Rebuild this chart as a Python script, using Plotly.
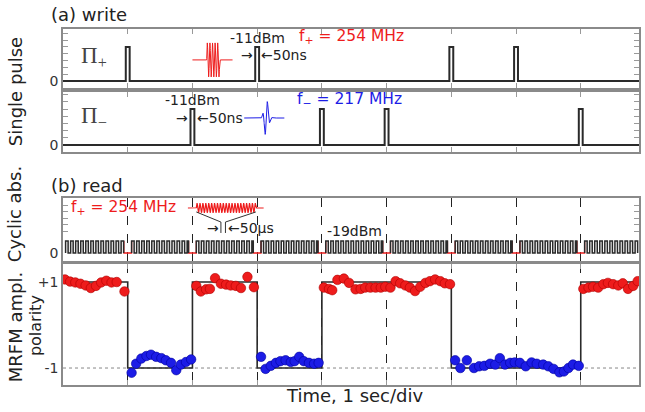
import numpy as np
import plotly.graph_objects as go

# ---------------- data ----------------
T_MAX = 8.9
pulse_plus_times = [1, 3, 6, 7]      # Pi+ write pulses (s)
pulse_minus_times = [2, 4, 5, 8]     # Pi- write pulses (s)
pulse_width = 0.06
read_gap_times = [1, 2, 3, 4, 5, 6, 7, 8]
read_gap_half = 0.06
read_period = 0.078

step_t = [0, 1, 2, 3, 4, 6, 8, 8.9]
step_v = [1, -1, 1, -1, 1, -1, 1, 1]

red_t = [0.03, 0.11, 0.19, 0.27, 0.35, 0.43, 0.51, 0.59, 0.67, 0.75, 0.83, 0.95,
         2.06, 2.13, 2.21, 2.27, 2.35, 2.44, 2.52, 2.59, 2.67, 2.75, 2.85, 2.95,
         4.03, 4.11, 4.16, 4.24, 4.34, 4.42, 4.52, 4.60, 4.67, 4.75, 4.83, 4.91, 4.98,
         5.06, 5.14, 5.21, 5.29, 5.36, 5.44, 5.52, 5.60, 5.67, 5.75, 5.83, 5.90, 5.98,
         8.04, 8.12, 8.19, 8.27, 8.35, 8.42, 8.50, 8.58, 8.65, 8.73, 8.81, 8.88]
red_v = [1.06, 1.01, 0.99, 0.96, 0.92, 0.86, 0.91, 0.99, 1.03, 0.99, 1.00, 0.78,
         0.91, 0.78, 0.83, 0.84, 1.09, 0.96, 0.94, 0.92, 0.91, 0.86, 1.12, 0.88,
         0.87, 0.84, 0.81, 1.05, 1.08, 0.98, 0.83, 0.84, 0.87, 0.87, 0.87, 0.87, 0.89,
         0.87, 1.02, 0.97, 0.92, 0.87, 0.79, 0.89, 0.98, 1.02, 1.06, 1.02, 0.97, 0.95,
         0.84, 0.87, 0.89, 0.87, 0.95, 0.98, 0.95, 0.92, 0.97, 0.84, 0.91, 1.02]
blue_t = [1.06, 1.13, 1.21, 1.29, 1.36, 1.44, 1.52, 1.59, 1.67, 1.75, 1.82, 1.90, 1.98,
          3.06, 3.13, 3.21, 3.29, 3.36, 3.44, 3.52, 3.58, 3.65, 3.72, 3.80, 3.88, 3.95,
          6.06, 6.14, 6.24, 6.35, 6.43, 6.51, 6.60, 6.68, 6.75, 6.83, 6.91, 6.98,
          7.06, 7.15, 7.24, 7.32, 7.42, 7.50, 7.58, 7.67, 7.74, 7.81, 7.88, 7.97]
blue_v = [-1.11, -0.90, -0.78, -0.72, -0.69, -0.74, -0.77, -0.82, -0.88, -1.05, -0.92, -0.86, -0.80,
          -0.74, -1.02, -0.95, -0.88, -0.84, -0.82, -0.86, -0.84, -0.74, -0.84, -0.88, -0.90, -0.88,
          -0.82, -1.00, -0.82, -1.00, -0.96, -0.95, -0.90, -0.92, -0.77, -0.92, -0.88, -0.87,
          -0.88, -0.96, -0.87, -0.90, -0.92, -0.96, -1.02, -1.10, -1.08, -1.00, -0.92, -0.95]

FONT = "DejaVu Sans"
RED = "#ee1c1c"
BLUE = "#1c1ce6"
DARK = "#2a2a2a"

W, H = 645, 412
PL, PR, PT, PB = 63, 641, 28, 385   # plot area in pixels


def pulse_path(times, width, t_max):
    xs, ys = [0.0], [0.0]
    for t in times:
        a, b = t - width / 2, t + width / 2
        xs += [a, a, b, b]
        ys += [0, 1, 1, 0]
    xs.append(t_max)
    ys.append(0)
    return xs, ys


def read_wave(gaps, half, period, t_max):
    edges = [0.04] + [v for g in gaps for v in (g - half, g + half)] + [t_max]
    segs = [(edges[i], edges[i + 1]) for i in range(0, len(edges), 2)]
    bx, by = [], []
    for a, b in segs:
        t = a
        sx, sy = [a], [0]
        while t < b:
            hi_end = min(t + period / 2, b)
            sx += [t, hi_end, hi_end]
            sy += [1, 1, 0]
            t = t + period
            if t < b:
                sx.append(t)
                sy.append(0)
        bx += sx + [None]
        by += sy + [None]
    return bx, by


fig = go.Figure()

# panel 1 : Pi+
px, py = pulse_path(pulse_plus_times, pulse_width, T_MAX)
fig.add_trace(go.Scatter(x=px, y=py, mode="lines", line=dict(color=DARK, width=2),
                         xaxis="x", yaxis="y", hoverinfo="skip"))
# panel 2 : Pi-
mx, my = pulse_path(pulse_minus_times, pulse_width, T_MAX)
fig.add_trace(go.Scatter(x=mx, y=my, mode="lines", line=dict(color=DARK, width=2),
                         xaxis="x2", yaxis="y2", hoverinfo="skip"))

# decorative rf bursts
bt = np.linspace(2.0, 2.62, 600)
env = np.where((bt > 2.22) & (bt < 2.42), 1.0, 0.0)
fig.add_trace(go.Scatter(x=bt, y=0.62 + 0.5 * env * np.sin(2 * np.pi * (bt - 2.22) / 0.04),
                         mode="lines", line=dict(color=RED, width=1), xaxis="x", yaxis="y",
                         hoverinfo="skip"))
wt = np.linspace(2.8, 3.42, 600)
wenv = np.exp(-((wt - 3.14) / 0.045) ** 2)
fig.add_trace(go.Scatter(x=wt, y=0.75 + 0.53 * wenv * np.sin(2 * np.pi * (wt - 3.14) / 0.075),
                         mode="lines", line=dict(color=BLUE, width=1), xaxis="x2", yaxis="y2",
                         hoverinfo="skip"))

# panel 3 : cyclic read
ex, ey = [], []
for g in read_gap_times:
    a, b = g - read_gap_half, g + read_gap_half
    ex += [a, a, b, b, None]
    ey += [1, 0, 0, 1, None]
fig.add_trace(go.Scatter(x=ex, y=ey, mode="lines", line=dict(color=RED, width=1.3),
                         xaxis="x3", yaxis="y3", hoverinfo="skip"))
wx, wy = read_wave(read_gap_times, read_gap_half, read_period, T_MAX)
fig.add_trace(go.Scatter(x=wx, y=wy, mode="lines", line=dict(color=DARK, width=1.5),
                         xaxis="x3", yaxis="y3", hoverinfo="skip"))
rt = np.linspace(1.93, 3.1, 1500)
renv = np.where((rt > 2.06) & (rt < 2.98), 1.0, 0.0)
fig.add_trace(go.Scatter(x=rt, y=3.75 + 0.4 * renv * np.sin(2 * np.pi * (rt - 2.06) / 0.045),
                         mode="lines", line=dict(color=RED, width=1.2), xaxis="x3", yaxis="y3",
                         hoverinfo="skip"))
fig.add_trace(go.Scatter(x=[2.06, 2.44, 2.44, None, 2.98, 2.51, 2.51],
                         y=[3.42, 2.58, 1.67, None, 3.42, 2.58, 1.67],
                         mode="lines", line=dict(color="#333", width=1), xaxis="x3", yaxis="y3",
                         hoverinfo="skip"))

# panel 4 : polarity
fig.add_trace(go.Scatter(x=[0, T_MAX], y=[-1, -1], mode="lines",
                         line=dict(color="#888", width=1, dash="dot"),
                         xaxis="x4", yaxis="y4", hoverinfo="skip"))
fig.add_trace(go.Scatter(x=step_t, y=step_v, mode="lines", line=dict(color=DARK, width=1.6, shape="hv"),
                         xaxis="x4", yaxis="y4"))
fig.add_trace(go.Scatter(x=red_t, y=red_v, mode="markers",
                         marker=dict(color=RED, size=9.5, line=dict(color="#b00000", width=0.6)),
                         xaxis="x4", yaxis="y4"))
fig.add_trace(go.Scatter(x=blue_t, y=blue_v, mode="markers",
                         marker=dict(color=BLUE, size=9.5, line=dict(color="#0000a0", width=0.6)),
                         xaxis="x4", yaxis="y4"))

# ---------------- axes ----------------


def dom(y0, y1):
    return [(PB - y1) / (PB - PT), (PB - y0) / (PB - PT)]


xcommon = dict(range=[0, T_MAX], tickvals=list(range(1, 9)), showticklabels=False,
               showline=True, linecolor="#8a8a8a", linewidth=1.5, mirror=True, zeroline=False)
minor_small = [0.2, 0.4, 0.6, 0.8, 1.0, 1.2, 1.4]
ycommon = dict(showline=True, linecolor="#8a8a8a", linewidth=1.5, zeroline=False, showgrid=False,
               tickfont=dict(family=FONT, size=14, color="#333"))

layout = dict(
    width=W, height=H,
    margin=dict(l=PL, r=W - PR, t=PT, b=H - PB, pad=0),
    paper_bgcolor="white", plot_bgcolor="white", showlegend=False,
    font=dict(family=FONT, color="#222"),
)
layout["xaxis"] = dict(xcommon, anchor="y", showgrid=False, ticks="inside", ticklen=5,
                       tickcolor="#999", tickwidth=1)
layout["xaxis"]["mirror"] = "ticks"
layout["xaxis2"] = dict(layout["xaxis"], anchor="y2", matches="x")
layout["xaxis3"] = dict(xcommon, anchor="y3", matches="x", showgrid=True, gridcolor="#222",
                        gridwidth=1, griddash="dash", ticks="")
layout["xaxis4"] = dict(xcommon, anchor="y4", matches="x", showgrid=True, gridcolor="#222",
                        gridwidth=1, griddash="dash", ticks="inside", ticklen=5, tickcolor="#999")
layout["xaxis4"]["mirror"] = "ticks"

minor_cfg = dict(ticks="inside", ticklen=5, tickcolor="#999", tickwidth=1)
layout["yaxis"] = dict(ycommon, domain=dom(29, 88), range=[-0.206, 1.529], anchor="x",
                       tickvals=[0], ticktext=["0"], ticks="", mirror="ticks",
                       minor=dict(minor_cfg, tickvals=minor_small))
layout["yaxis2"] = dict(ycommon, domain=dom(92, 152), range=[-0.194, 1.472], anchor="x2",
                        tickvals=[0], ticktext=["0"], ticks="", mirror="ticks",
                        minor=dict(minor_cfg, tickvals=minor_small))
layout["yaxis3"] = dict(ycommon, domain=dom(198, 261), range=[-0.667, 4.583], anchor="x3",
                        tickvals=[0], ticktext=["0"], ticks="", mirror="ticks",
                        minor=dict(minor_cfg, tickvals=[1.8, 2.35, 2.9, 3.45, 4.0]))
layout["yaxis4"] = dict(ycommon, domain=dom(264, 385), range=[-1.395, 1.419], anchor="x4",
                        tickvals=[-1, 1], ticktext=["-1", "+1"], ticks="", mirror=True)

fig.update_layout(**layout)


def px2paper(xp, yp):
    return (xp - PL) / (PR - PL), (PB - yp) / (PB - PT)


ann = []


def label(text, xp, yp, size, angle=0, color="#222", xanchor="center", family=FONT):
    x, y = px2paper(xp, yp)
    ann.append(dict(text=text, x=x, y=y, xref="paper", yref="paper", showarrow=False,
                    textangle=angle, xanchor=xanchor, yanchor="middle",
                    font=dict(family=family, size=size, color=color)))


label("Single pulse", 15, 92, 18, -90)
label("Cyclic abs.", 15, 214, 18, -90)
label("MRFM ampl.", 15, 327, 18, -90)
label("polarity", 35, 326, 16, -90)
label("(a) write", 49, 15, 18, xanchor="left")
label("(b) read", 49, 185, 18, xanchor="left")
label("Time, 1 sec/div", 356, 396, 18)
label("Π<sub>+</sub>", 94, 57, 23, color="#444", family="Liberation Serif")
label("Π<sub>−</sub>", 94, 117, 23, color="#444", family="Liberation Serif")


def dtext(text, x, y, xr, yr, size=14, color="#222", xanchor="center"):
    ann.append(dict(text=text, x=x, y=y, xref=xr, yref=yr, showarrow=False, xanchor=xanchor,
                    yanchor="middle", font=dict(family=FONT, size=size, color=color)))


dtext("-11dBm", 3.0, 1.26, "x", "y")
dtext("→", 2.965, 0.76, "x", "y", xanchor="right")
dtext("←50ns", 3.035, 0.76, "x", "y", xanchor="left")
dtext("f<sub>+</sub> = 254 MHz", 3.62, 1.3, "x", "y", 15.5, RED, "left")

dtext("-11dBm", 2.0, 1.25, "x2", "y2")
dtext("→", 1.965, 0.75, "x2", "y2", xanchor="right")
dtext("←50ns", 2.035, 0.75, "x2", "y2", xanchor="left")
dtext("f<sub>−</sub> = 217 MHz", 3.58, 1.25, "x2", "y2", 15.5, BLUE, "left")

dtext("f<sub>+</sub> = 254 MHz", 0.1, 3.75, "x3", "y3", 15.5, RED, "left")
dtext("→", 2.435, 2.1, "x3", "y3", xanchor="right")
dtext("←50μs", 2.515, 2.1, "x3", "y3", xanchor="left")
dtext("-19dBm", 4.5, 1.85, "x3", "y3", 14)

fig.update_layout(annotations=ann)
# remove the default 8px page margin so the figure fills the window exactly
fig.write_html("out.html", config={"displayModeBar": False},
               post_script="document.body.style.margin='0';document.body.style.overflow='hidden';")
